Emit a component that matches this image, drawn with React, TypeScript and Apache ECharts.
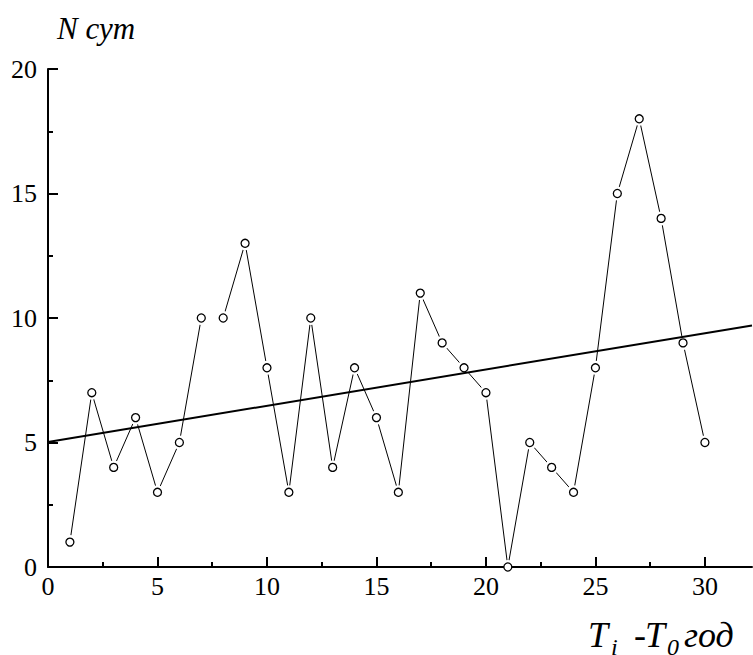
import React, { useEffect, useRef } from "react";
import * as echarts from "echarts";

const years = [1, 2, 3, 4, 5, 6, 7, 8, 9, 10, 11, 12, 13, 14, 15, 16, 17, 18, 19, 20, 21, 22, 23, 24, 25, 26, 27, 28, 29, 30];
const days = [1, 7, 4, 6, 3, 5, 10, 10, 13, 8, 3, 10, 4, 8, 6, 3, 11, 9, 8, 7, 0, 5, 4, 3, 8, 15, 18, 14, 9, 5];
const noLinkAfter = [7];
const trendX = [0, 32.15];
const trendY = [5.02, 9.7];
const xMajorTicks = [0, 5, 10, 15, 20, 25, 30];
const xMinorTicks = [2.5, 7.5, 12.5, 17.5, 22.5, 27.5];

const FONT = "Liberation Serif";

function txt(text: string, x: number, y: number, size: number) {
  return {
    type: "text",
    x,
    y,
    style: {
      text,
      fontFamily: FONT,
      fontStyle: "italic",
      fontSize: size,
      fill: "#000",
      verticalAlign: "middle",
      align: "left",
    },
  };
}

export default function App() {
  const ref = useRef<HTMLDivElement>(null);
  useEffect(() => {
    const chart = echarts.init(ref.current!, null, { renderer: "svg" });
    const points = years.map((x, i) => [x, days[i]]);
    const lineData: any[] = [];
    years.forEach((x, i) => {
      lineData.push([x, days[i]]);
      if (noLinkAfter.includes(x) && i < years.length - 1) {
        lineData.push([(x + years[i + 1]) / 2, "-"]);
      }
    });
    const trend = trendX.map((x, i) => [x, trendY[i]]);
    const xBase = {
      type: "value",
      min: 0,
      max: 32.15,
      interval: 5,
      position: "bottom",
      splitLine: { show: false },
    };
    chart.setOption({
      animation: false,
      textStyle: { fontFamily: FONT },
      grid: { left: 48, top: 69, right: 1, bottom: 88, containLabel: false },
      xAxis: [
        {
          ...xBase,
          z: 3,
          axisLine: { show: true, onZero: false, lineStyle: { color: "#000", width: 2 } },
          axisTick: { show: true, inside: true, length: 10, customValues: xMajorTicks, lineStyle: { color: "#000", width: 2 } },
          axisLabel: {
            show: true,
            customValues: xMajorTicks,
            margin: 6,
            color: "#000",
            fontFamily: FONT,
            fontSize: 26,
            formatter: (v: number) => (v % 5 === 0 ? String(v) : ""),
          },
        },
        {
          ...xBase,
          z: 3,
          axisLine: { show: false, onZero: false },
          axisTick: { show: true, inside: true, length: 5, customValues: xMinorTicks, lineStyle: { color: "#000", width: 2 } },
          axisLabel: { show: false },
        },
      ],
      yAxis: {
        type: "value",
        min: 0,
        max: 20,
        interval: 5,
        z: 3,
        splitLine: { show: false },
        axisLine: { show: true, onZero: false, lineStyle: { color: "#000", width: 2 } },
        axisTick: { show: true, inside: true, length: 10, lineStyle: { color: "#000", width: 2 } },
        minorTick: { show: true, splitNumber: 2, length: 5, lineStyle: { color: "#000", width: 2 } },
        axisLabel: { margin: 11, color: "#000", fontFamily: FONT, fontSize: 26 },
      },
      series: [
        {
          type: "line",
          data: lineData,
          showSymbol: false,
          symbol: "none",
          connectNulls: false,
          clip: false,
          z: 1,
          lineStyle: { color: "#000", width: 1 },
          silent: true,
        },
        {
          type: "scatter",
          data: points,
          symbol: "circle",
          symbolSize: 14,
          clip: false,
          z: 2,
          itemStyle: { color: "#fff", borderWidth: 0, opacity: 1 },
          silent: true,
        },
        {
          type: "line",
          data: trend,
          showSymbol: false,
          symbol: "none",
          clip: false,
          z: 4,
          lineStyle: { color: "#000", width: 2 },
          silent: true,
        },
        {
          type: "scatter",
          data: points,
          symbol: "circle",
          symbolSize: 8,
          clip: false,
          z: 5,
          itemStyle: { color: "#fff", borderColor: "#000", borderWidth: 1.3, opacity: 1 },
          silent: true,
        },
      ],
      graphic: [
        txt("N сут", 57, 28, 31),
        txt("T", 588, 635, 36),
        txt("i", 611, 647, 24),
        txt("-", 634, 635, 36),
        txt("T", 645, 635, 36),
        txt("0", 667, 647, 24),
        txt("год", 684, 635, 36),
      ],
    });
    return () => chart.dispose();
  }, []);
  return <div ref={ref} style={{ position: "fixed", left: 0, top: 0, width: 753, height: 655, background: "#fff" }} />;
}
